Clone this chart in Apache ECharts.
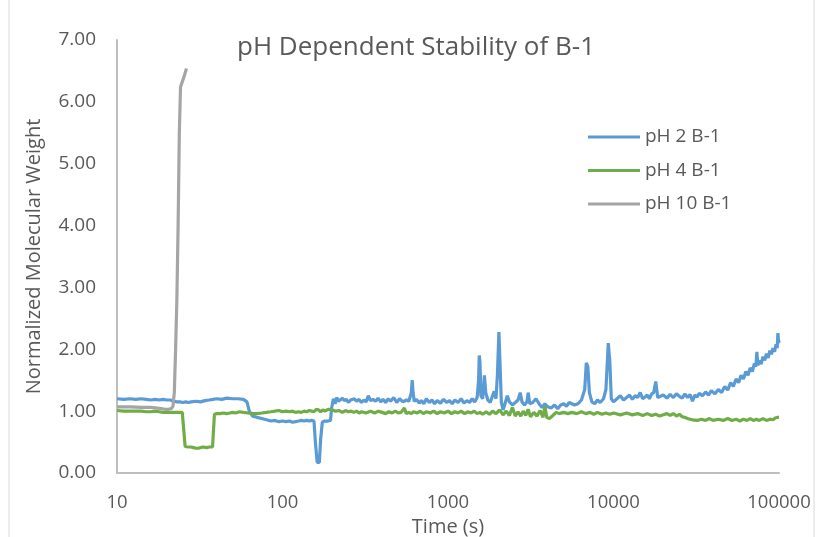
<!DOCTYPE html>
<html>
<head>
<meta charset="utf-8">
<script src="https://cdn.jsdelivr.net/npm/echarts@6/dist/echarts.min.js"></script>
<style>html,body{margin:0;padding:0;background:#fff}#c{width:817px;height:537px}</style>
</head>
<body>
<div id="c"></div>
<script>
var yTicks = [0, 1, 2, 3, 4, 5, 6, 7];
var xTicks = [10, 100, 1000, 10000, 100000];
var seriesNames = ['pH 2 B-1', 'pH 4 B-1', 'pH 10 B-1'];

var ph2Time = [10,11,12,13,14,15,16,17,18,19,20,21,22,23,24,25,26,27,28,30,32,34,36,38,40,43,46,50,54,58,61,63,66,70,75,80,85,90,95,100,105,110,115,120,125,130,135,140,145,150,155,158,162,167,170,174,180,188,195,198,203,208,213,218,223,230,236,243,250,258,265,272,280,290,300,310,320,330,340,352,365,378,392,405,420,435,450,470,490,510,535,560,580,600,608,615,625,645,670,690,715,740,770,800,830,860,900,940,980,1020,1060,1100,1150,1200,1250,1300,1350,1400,1450,1500,1530,1545,1560,1580,1620,1660,1690,1740,1800,1850,1900,1950,1990,2030,2060,2100,2150,2200,2280,2350,2450,2550,2650,2730,2800,2900,3000,3050,3120,3250,3400,3550,3700,3850,4000,4200,4400,4600,4800,5000,5200,5400,5600,5800,6100,6400,6700,6850,7000,7150,7400,7700,8000,8300,8700,9000,9300,9500,9700,10000,10500,11000,11500,12000,12500,13000,13500,14000,14500,15000,15500,16000,16500,17000,17500,18000,18500,19000,20000,21000,22000,23000,24000,25000,26000,27000,28000,29000,30000,31000,32000,33000,34500,36000,37500,39000,41000,43000,45000,47000,49000,51000,53000,55000,57000,59000,61000,63000,65000,67000,69000,71000,72500,73500,74500,76000,78000,80000,82000,84000,86000,88000,90000,92000,94000,96000,97500,98500,99500,100000];
var ph2Value = [1.20,1.19,1.20,1.19,1.20,1.19,1.18,1.19,1.18,1.19,1.18,1.18,1.16,1.15,1.15,1.14,1.15,1.14,1.15,1.16,1.15,1.17,1.18,1.19,1.20,1.19,1.21,1.20,1.20,1.19,1.15,1.00,0.92,0.90,0.88,0.86,0.84,0.85,0.83,0.84,0.83,0.84,0.82,0.83,0.84,0.85,0.84,0.85,0.84,0.85,0.84,0.50,0.17,0.17,0.55,0.82,0.84,0.84,0.85,1.05,1.20,1.12,1.22,1.16,1.14,1.21,1.17,1.19,1.14,1.18,1.15,1.20,1.16,1.19,1.14,1.18,1.15,1.25,1.17,1.19,1.16,1.21,1.15,1.19,1.14,1.20,1.16,1.22,1.14,1.20,1.15,1.18,1.16,1.30,1.50,1.30,1.16,1.19,1.13,1.17,1.12,1.20,1.14,1.18,1.12,1.17,1.13,1.19,1.14,1.17,1.12,1.18,1.14,1.20,1.13,1.17,1.14,1.20,1.15,1.22,1.50,1.90,1.80,1.25,1.20,1.58,1.30,1.18,1.14,1.16,1.32,1.20,1.60,2.28,1.80,1.15,1.02,1.10,1.25,1.15,1.10,1.14,1.18,1.30,1.15,1.10,1.15,1.30,1.12,1.14,1.20,1.12,1.06,1.12,1.07,1.05,1.10,1.04,1.10,1.12,1.08,1.14,1.12,1.10,1.12,1.18,1.35,1.78,1.72,1.30,1.15,1.12,1.18,1.14,1.20,1.35,2.10,1.80,1.20,1.15,1.20,1.25,1.18,1.22,1.26,1.19,1.25,1.22,1.30,1.20,1.23,1.26,1.20,1.28,1.30,1.48,1.22,1.20,1.26,1.21,1.27,1.22,1.28,1.24,1.21,1.28,1.22,1.27,1.16,1.26,1.23,1.29,1.25,1.31,1.26,1.33,1.28,1.35,1.30,1.40,1.34,1.46,1.40,1.52,1.46,1.58,1.52,1.64,1.58,1.70,1.64,1.77,1.72,1.96,1.74,1.82,1.76,1.88,1.82,1.93,1.86,1.98,1.92,2.02,1.96,2.08,2.02,2.26,2.10,2.15];

var ph4Time = [10,11,12,13,14,15,16,17,18,19,20,21,22,23,24,24.8,25.3,25.8,27,28,29,30,31,32,33,35,36,37,37.8,38.3,38.8,40,42,44,46,48,50,52,55,58,62,66,70,75,80,85,90,95,100,105,110,115,120,125,130,135,140,145,150,155,160,165,170,175,180,190,200,210,220,230,240,250,260,270,280,290,300,320,340,360,380,400,420,440,460,480,500,520,545,560,580,600,620,650,680,710,740,780,820,860,900,950,1000,1050,1100,1150,1200,1260,1320,1380,1440,1500,1560,1620,1700,1780,1860,1950,2000,2050,2150,2250,2350,2450,2550,2650,2750,2850,2950,3050,3150,3300,3450,3600,3750,3850,3950,4100,4300,4500,4700,5000,5300,5600,6000,6400,6800,7200,7600,8000,8500,9000,9500,10000,11000,12000,13000,14000,15000,16000,17000,18000,19000,20000,21000,22000,23000,24000,25000,26000,27000,28000,29000,30000,32000,34000,36000,38000,40000,43000,46000,49000,52000,55000,58000,61000,64000,67000,70000,73000,76000,80000,84000,88000,92000,95000,98000,100000];
var ph4Value = [1.01,1.00,1.00,1.00,1.00,0.99,0.99,1.00,0.99,0.98,0.98,0.98,0.98,0.98,0.98,0.98,0.70,0.43,0.42,0.42,0.41,0.40,0.40,0.41,0.42,0.41,0.42,0.42,0.42,0.70,0.95,0.96,0.96,0.97,0.96,0.97,0.98,0.97,0.99,0.98,0.97,0.96,0.96,0.97,0.98,0.99,1.00,1.01,0.99,1.00,0.99,1.00,0.98,0.99,0.98,1.00,0.99,1.01,1.00,0.99,1.03,1.02,0.99,1.02,1.00,1.03,1.02,1.00,1.01,0.98,1.01,0.99,1.00,0.98,1.00,0.97,0.99,0.97,1.00,0.97,1.00,0.98,0.96,0.99,0.97,1.00,0.97,0.98,1.05,0.96,0.98,0.96,0.99,0.97,1.00,0.96,0.99,0.97,1.00,0.96,0.99,0.97,1.00,0.96,0.99,0.97,1.00,0.96,0.99,0.97,1.00,0.96,0.98,0.95,0.99,0.95,1.00,0.96,0.93,1.02,0.94,1.00,0.93,1.06,0.92,0.99,0.92,1.00,0.93,1.03,0.91,0.98,0.92,1.01,0.90,1.08,0.90,0.88,0.93,0.98,0.96,0.98,0.96,0.98,0.96,0.99,0.96,0.98,0.95,0.98,0.95,0.97,0.95,0.97,0.94,0.97,0.94,0.96,0.93,0.96,0.93,0.95,0.92,0.94,0.96,0.93,0.96,0.92,0.95,0.91,0.90,0.88,0.87,0.86,0.85,0.87,0.85,0.88,0.85,0.87,0.85,0.88,0.85,0.87,0.84,0.87,0.85,0.88,0.85,0.87,0.85,0.88,0.85,0.87,0.86,0.89,0.90,0.90];

var ph10Time = [10,12,14,16,17.5,18.5,19.5,20.5,21.3,21.8,22.2,22.6,23,23.4,23.8,24.2,24.8,25.5,26.3];
var ph10Value = [1.07,1.07,1.06,1.06,1.05,1.04,1.03,1.03,1.04,1.08,1.30,2.00,2.80,4.00,5.50,6.24,6.27,6.42,6.54];

function pairs(t, v) { return t.map(function (x, i) { return [x, v[i]]; }); }

var FONT = '"Open Sans", sans-serif';
var TXT = '#595959';
var chart = echarts.init(document.getElementById('c'));
chart.setOption({
  animation: false,
  backgroundColor: '#ffffff',
  textStyle: { fontFamily: FONT },
  title: {
    text: 'pH Dependent Stability of B-1',
    left: 237, top: 35, padding: 0,
    textStyle: { fontFamily: FONT, fontSize: 26, fontWeight: 'normal', color: TXT }
  },
  legend: {
    orient: 'vertical', left: 588, top: 127, padding: 0,
    itemWidth: 52, itemHeight: 3, itemGap: 13.5,
    textStyle: { fontFamily: FONT, fontSize: 19, lineHeight: 20, color: TXT },
    data: seriesNames.map(function (n) { return { name: n, icon: 'rect' }; })
  },
  graphic: [{
    type: 'rect', silent: true,
    shape: { x: 9, y: -3, width: 805, height: 543 },
    style: { fill: 'none', stroke: '#d9d9d9', lineWidth: 1 }
  }],
  grid: { left: 117, right: 38, top: 40, bottom: 64, containLabel: false, outerBoundsMode: 'none' },
  xAxis: {
    type: 'log', logBase: 10, min: xTicks[0], max: xTicks[xTicks.length - 1],
    name: 'Time (s)', nameLocation: 'middle', nameGap: 38,
    nameTextStyle: { fontFamily: FONT, fontSize: 20, color: TXT },
    axisLine: { show: true, lineStyle: { color: '#bfbfbf', width: 2 } },
    axisTick: { show: false },
    splitLine: { show: false },
    axisLabel: { fontFamily: FONT, fontSize: 18.5, color: TXT, margin: 20,
      formatter: function (v) { return String(v); } }
  },
  yAxis: {
    type: 'value', min: yTicks[0], max: yTicks[yTicks.length - 1], interval: 1,
    name: 'Normalized Molecular Weight', nameLocation: 'middle', nameGap: 73,
    nameTextStyle: { fontFamily: FONT, fontSize: 20, color: TXT },
    axisLine: { show: true, lineStyle: { color: '#bfbfbf', width: 2 } },
    axisTick: { show: false },
    splitLine: { show: false },
    axisLabel: { fontFamily: FONT, fontSize: 19, color: TXT, margin: 21,
      formatter: function (v) { return v.toFixed(2); } }
  },
  series: [
    { name: seriesNames[0], type: 'line', symbol: 'none', data: pairs(ph2Time, ph2Value),
      lineStyle: { color: '#5b9bd5', width: 3.2 }, itemStyle: { color: '#5b9bd5' } },
    { name: seriesNames[1], type: 'line', symbol: 'none', data: pairs(ph4Time, ph4Value),
      lineStyle: { color: '#70ad47', width: 3.2 }, itemStyle: { color: '#70ad47' } },
    { name: seriesNames[2], type: 'line', symbol: 'none', data: pairs(ph10Time, ph10Value),
      lineStyle: { color: '#a5a5a5', width: 3.2 }, itemStyle: { color: '#a5a5a5' } }
  ]
});
</script>
</body>
</html>
